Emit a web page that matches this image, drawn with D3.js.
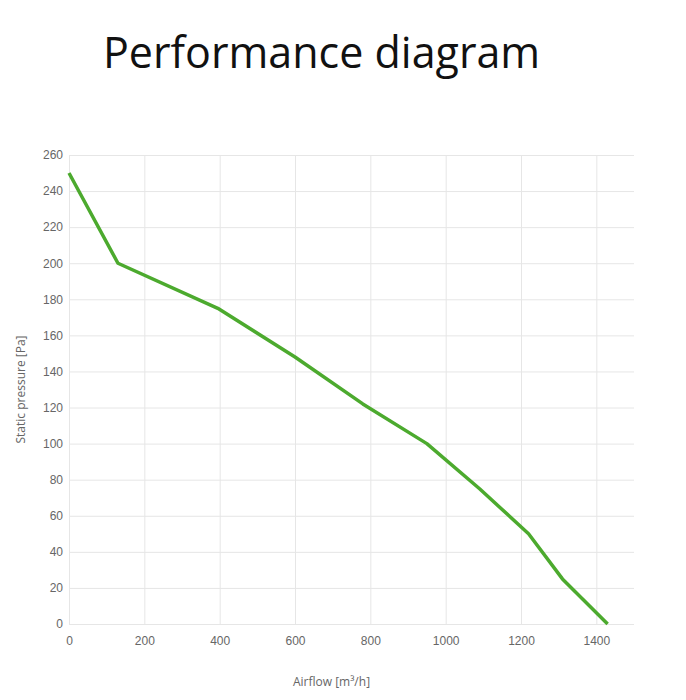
<!DOCTYPE html>
<html><head><meta charset="utf-8">
<script src="https://cdn.jsdelivr.net/npm/d3@7"></script>
<style>
body{margin:0;background:#fff;font-family:"Open Sans",sans-serif}
h1{position:absolute;left:103px;top:22px;margin:0;font-weight:400;font-size:43px;color:#111;font-family:"Open Sans",sans-serif}
.tick text{fill:#666;font-size:12px}
.grid line{stroke:#e6e6e6}
</style></head>
<body>
<h1>Performance diagram</h1>
<div id="chart"></div>
<script>
const airflow = [0, 130, 395, 600, 780, 950, 1090, 1220, 1310, 1430];
const pressure = [250, 200, 175, 148, 122, 100, 75, 50, 25, 0];
const xTicks = [0, 200, 400, 600, 800, 1000, 1200, 1400];
const yTicks = d3.range(0, 261, 20);

const margin = {top: 155, left: 69, right: 52, bottom: 76};
const W = 686, H = 700;
const width = W - margin.left - margin.right, height = H - margin.top - margin.bottom;

const svg = d3.select("#chart").append("svg").attr("width", W).attr("height", H)
    .append("g").attr("transform", `translate(${margin.left},${margin.top})`);

const x = d3.scaleLinear().domain([0, 1500]).range([0, width]);
const y = d3.scaleLinear().domain([0, 260]).range([height, 0]);

svg.append("g").attr("class", "grid")
    .call(d3.axisLeft(y).tickValues(yTicks).tickSize(-width).tickFormat(""))
    .call(g => g.select(".domain").remove());
svg.append("g").attr("class", "grid")
    .attr("transform", `translate(0,${height})`)
    .call(d3.axisBottom(x).tickValues(xTicks).tickSize(-height).tickFormat(""))
    .call(g => g.select(".domain").remove());

svg.append("g").attr("transform", `translate(0,${height})`)
    .call(d3.axisBottom(x).tickValues(xTicks).tickSize(0).tickPadding(12).tickFormat(d3.format("d")))
    .call(g => g.select(".domain").remove());
svg.append("g")
    .call(d3.axisLeft(y).tickValues(yTicks).tickSize(0).tickPadding(6))
    .call(g => g.select(".domain").remove());

const pts = airflow.map((a, i) => [a, pressure[i]]);
svg.append("path").datum(pts)
    .attr("fill", "none").attr("stroke", "#4caa2e").attr("stroke-width", 3.5)
    .attr("stroke-linejoin", "round")
    .attr("d", d3.line().x(d => x(d[0])).y(d => y(d[1])));

svg.append("text").attr("x", width / 2 - 20).attr("y", height + 62)
    .attr("text-anchor", "middle").attr("fill", "#666").attr("font-size", 12)
    .text("Airflow [m³/h]");
svg.append("text").attr("transform", `translate(-44,${height / 2}) rotate(-90)`)
    .attr("text-anchor", "middle").attr("fill", "#666").attr("font-size", 12)
    .text("Static pressure [Pa]");
</script>
</body></html>
